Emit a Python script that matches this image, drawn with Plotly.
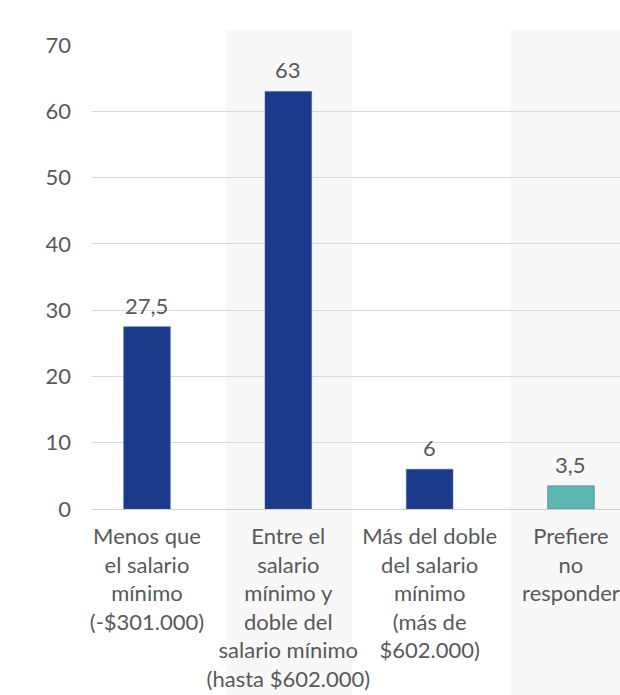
import plotly.graph_objects as go

categories = [
    "Menos que<br>el salario<br>mínimo<br>(-$301.000)",
    "Entre el<br>salario<br>mínimo y<br>doble del<br>salario mínimo<br>(hasta $602.000)",
    "Más del doble<br>del salario<br>mínimo<br>(más de<br>$602.000)",
    "Prefiere<br>no<br>responder",
]
values = [27.5, 63, 6, 3.5]
value_labels = ["27,5", "63", "6", "3,5"]
bar_colors = ["#1a3b8c", "#1a3b8c", "#1a3b8c", "#5cb8b0"]
y_ticks = [0, 10, 20, 30, 40, 50, 60, 70]

FONT = "Lato, 'Open Sans', sans-serif"
GRAY = "#595959"
FS = 22

fig = go.Figure()
fig.add_trace(go.Bar(
    x=list(range(len(categories))),
    y=values,
    marker=dict(color=bar_colors, line=dict(color="#3a5aa8", width=0.5)),
    width=0.33,
    hoverinfo="skip",
))

for i, (v, t) in enumerate(zip(values, value_labels)):
    fig.add_annotation(x=i, y=v, text=t, showarrow=False, yanchor="bottom",
                       yshift=6, font=dict(family=FONT, size=FS, color=GRAY))

# light background bands
for x0, x1 in [(0.56, 1.45), (2.57, 3.6)]:
    fig.add_shape(type="rect", xref="x", yref="paper", x0=x0, x1=x1,
                  y0=-0.42, y1=1.033, fillcolor="#f8f8f8", line=dict(width=0),
                  layer="below")

fig.update_layout(
    width=620, height=695,
    margin=dict(l=92, r=0, t=45, b=186),
    plot_bgcolor="rgba(0,0,0,0)", paper_bgcolor="white",
    showlegend=False,
    font=dict(family=FONT, color=GRAY),
    xaxis=dict(
        range=[-0.389, 3.347],
        tickmode="array",
        tickvals=list(range(len(categories))),
        ticktext=categories,
        tickfont=dict(family=FONT, size=FS, color=GRAY),
        showgrid=False, zeroline=False, showline=False,
        ticks="", ticklabelstandoff=12,
        tickangle=0, automargin=False,
    ),
    yaxis=dict(
        range=[0, 70],
        tickvals=y_ticks,
        tickfont=dict(family=FONT, size=FS, color=GRAY),
        showgrid=True, gridcolor="#d9d9d9", gridwidth=1,
        zeroline=True, zerolinecolor="#d0d0d0", zerolinewidth=1,
        showline=False, ticks="", ticklabelstandoff=20,
        automargin=False,
    ),
)

fig.write_html(
    "out.html",
    config={"displayModeBar": False},
    post_script="document.body.style.margin='0';document.body.style.overflow='hidden';",
)
